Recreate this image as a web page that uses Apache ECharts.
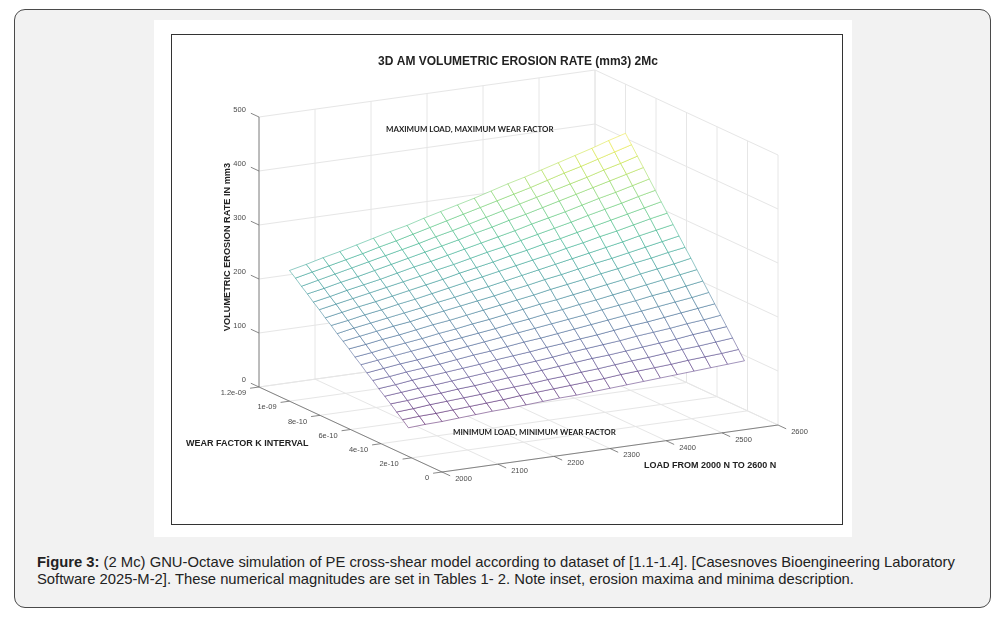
<!DOCTYPE html>
<html>
<head>
<meta charset="utf-8">
<script src="https://cdn.jsdelivr.net/npm/echarts@6/dist/echarts.min.js"></script>
<style>
  html, body { margin: 0; padding: 0; width: 1005px; height: 623px; overflow: hidden; background: #fff; font-family: "Liberation Sans", Arial, sans-serif; }
  #card { position: absolute; left: 14px; top: 9px; width: 977px; height: 599px; box-sizing: border-box; background: #f2f2f2; border: 1px solid #4a4a4a; border-radius: 11px; }
  #panel { position: absolute; left: 154px; top: 20px; width: 698px; height: 517px; background: #fff; }
  #frame { position: absolute; left: 171px; top: 34px; width: 672px; height: 491px; box-sizing: border-box; border: 1px solid #333; background: #fff; }
  #chart { width: 670px; height: 489px; }
  #caption { position: absolute; left: 37px; top: 554px; font-size: 14.8px; line-height: 17px; color: #222; white-space: nowrap; }
</style>
</head>
<body>
<div id="card"></div>
<div id="panel"></div>
<div id="frame"><div id="chart"></div></div>
<div id="caption"><b>Figure 3:</b> (2 Mc) GNU-Octave simulation of PE cross-shear model according to dataset of [1.1-1.4]. [Casesnoves Bioengineering Laboratory<br>Software 2025-M-2]. These numerical magnitudes are set in Tables 1- 2. Note inset, erosion maxima and minima description.</div>
<script>
// ---------- axes ----------
const loadTicks = [2000, 2100, 2200, 2300, 2400, 2500, 2600];
const wearTicks = [0, 2e-10, 4e-10, 6e-10, 8e-10, 1e-9, 1.2e-9];
const wearTickLabels = ["0", "2e-10", "4e-10", "6e-10", "8e-10", "1e-09", "1.2e-09"];
const erosionTicks = [0, 100, 200, 300, 400, 500];

// ---------- mesh nodes ----------
const loads = [2000, 2030, 2060, 2090, 2120, 2150, 2180, 2210, 2240, 2270, 2300,
               2330, 2360, 2390, 2420, 2450, 2480, 2510, 2540, 2570, 2600];
const wearK = [2.20e-10, 2.59e-10, 2.98e-10, 3.37e-10, 3.76e-10, 4.15e-10, 4.54e-10,
               4.93e-10, 5.32e-10, 5.71e-10, 6.10e-10, 6.49e-10, 6.88e-10, 7.27e-10,
               7.66e-10, 8.05e-10, 8.44e-10, 8.83e-10, 9.22e-10, 9.61e-10, 1.00e-9];
// volumetric erosion (mm3): one row per load, one column per wear factor
const erosion = [
  [53, 63, 72, 82, 91, 100, 110, 119, 129, 138, 148, 157, 166, 176, 185, 195, 204, 214, 223, 233, 242],
  [55, 65, 74, 84, 94, 103, 113, 123, 133, 142, 152, 162, 172, 181, 191, 201, 210, 220, 230, 240, 249],
  [56, 66, 77, 87, 97, 107, 117, 127, 137, 147, 157, 167, 177, 187, 197, 207, 217, 227, 237, 247, 257],
  [58, 68, 79, 89, 99, 110, 120, 130, 141, 151, 161, 172, 182, 192, 202, 213, 223, 233, 244, 254, 264],
  [60, 70, 81, 92, 102, 113, 123, 134, 145, 155, 166, 176, 187, 198, 208, 219, 229, 240, 251, 261, 272],
  [62, 72, 83, 94, 105, 116, 127, 138, 149, 160, 171, 182, 192, 203, 214, 225, 236, 247, 258, 269, 280],
  [63, 74, 86, 97, 108, 119, 131, 142, 153, 164, 175, 187, 198, 209, 220, 231, 243, 254, 265, 276, 288],
  [65, 77, 88, 100, 111, 123, 134, 146, 157, 169, 180, 192, 203, 215, 226, 238, 249, 261, 272, 284, 295],
  [67, 79, 90, 102, 114, 126, 138, 150, 161, 173, 185, 197, 209, 221, 233, 244, 256, 268, 280, 292, 304],
  [69, 81, 93, 105, 117, 129, 142, 154, 166, 178, 190, 202, 214, 227, 239, 251, 263, 275, 287, 300, 312],
  [70, 83, 95, 108, 120, 133, 145, 158, 170, 183, 195, 208, 220, 233, 245, 258, 270, 283, 295, 308, 320],
  [72, 85, 98, 111, 124, 136, 149, 162, 175, 188, 200, 213, 226, 239, 252, 264, 277, 290, 303, 316, 328],
  [74, 87, 100, 114, 127, 140, 153, 166, 179, 192, 206, 219, 232, 245, 258, 271, 284, 298, 311, 324, 337],
  [76, 90, 103, 116, 130, 143, 157, 170, 184, 197, 211, 224, 238, 251, 265, 278, 292, 305, 319, 332, 346],
  [78, 92, 106, 119, 133, 147, 161, 175, 188, 202, 216, 230, 244, 258, 271, 285, 299, 313, 327, 340, 354],
  [80, 94, 108, 122, 137, 151, 165, 179, 193, 207, 222, 236, 250, 264, 278, 292, 306, 321, 335, 349, 363],
  [82, 96, 111, 125, 140, 154, 169, 183, 198, 212, 227, 241, 256, 271, 285, 300, 314, 329, 343, 358, 372],
  [84, 99, 114, 128, 143, 158, 173, 188, 203, 218, 233, 247, 262, 277, 292, 307, 322, 337, 351, 366, 381],
  [86, 101, 116, 132, 147, 162, 177, 192, 208, 223, 238, 253, 269, 284, 299, 314, 329, 345, 360, 375, 390],
  [88, 103, 119, 135, 150, 166, 181, 197, 213, 228, 244, 259, 275, 291, 306, 322, 337, 353, 368, 384, 400],
  [90, 106, 122, 138, 154, 170, 186, 202, 218, 234, 249, 265, 281, 297, 313, 329, 345, 361, 377, 393, 409]
];

const viridis = ["#440154", "#482475", "#414487", "#355f8d", "#2a788e", "#21918c",
                 "#22a884", "#44bf70", "#7ad151", "#bddf26", "#fde725"];

// ---------- orthographic view (pixels inside the chart) ----------
const view = { x0: 270, y0: 437, load: [336, -47], wear: [-183, -85], up: [0, -270] };
const first = (a) => a[0], last = (a) => a[a.length - 1];
const frac = (ticks, v) => (v - first(ticks)) / (last(ticks) - first(ticks));
function project(l, k, z) {
  const u = frac(loadTicks, l), v = frac(wearTicks, k), w = frac(erosionTicks, z);
  return [view.x0 + u * view.load[0] + v * view.wear[0] + w * view.up[0],
          view.y0 + u * view.load[1] + v * view.wear[1] + w * view.up[1]];
}
function unit(vec, len) { const n = Math.hypot(vec[0], vec[1]); return [vec[0] / n * len, vec[1] / n * len]; }

// ---------- grid lines on floor and back walls ----------
const L0 = first(loadTicks), L1 = last(loadTicks);
const K0 = first(wearTicks), K1 = last(wearTicks);
const Z0 = first(erosionTicks), Z1 = last(erosionTicks);
const wallLines = [];
loadTicks.forEach(l => { wallLines.push([[l, K1, Z0], [l, K1, Z1]]); wallLines.push([[l, K0, Z0], [l, K1, Z0]]); });
wearTicks.forEach(k => { wallLines.push([[L1, k, Z0], [L1, k, Z1]]); wallLines.push([[L0, k, Z0], [L1, k, Z0]]); });
erosionTicks.forEach(z => { wallLines.push([[L0, K1, z], [L1, K1, z]]); wallLines.push([[L1, K0, z], [L1, K1, z]]); });

// ---------- mesh cells ----------
const cells = [];
for (let i = 0; i < loads.length - 1; i++) {
  for (let j = 0; j < wearK.length - 1; j++) {
    const avg = (erosion[i][j] + erosion[i + 1][j] + erosion[i + 1][j + 1] + erosion[i][j + 1]) / 4;
    cells.push([i, j, avg]);
  }
}
const flat = erosion.flat();

// ---------- axis ticks ----------
const tickFont = '7.5px "Liberation Sans", Arial, sans-serif';
const tickItems = [];
erosionTicks.forEach((z, n) => tickItems.push({ axis: "z", n }));
wearTicks.forEach((k, n) => tickItems.push({ axis: "k", n }));
loadTicks.forEach((l, n) => tickItems.push({ axis: "l", n }));

function tickGraphic(item) {
  let p, d, label, align, off;
  if (item.axis === "z") {
    p = project(L0, K1, erosionTicks[item.n]); d = unit(view.wear, 9);
    label = String(erosionTicks[item.n]); align = "right"; off = [-5, -3];
  } else if (item.axis === "k") {
    p = project(L0, wearTicks[item.n], Z0); d = unit([-view.load[0], -view.load[1]], 9);
    label = wearTickLabels[item.n]; align = "right"; off = [-4, 5];
  } else {
    p = project(loadTicks[item.n], K0, Z0); d = unit([-view.wear[0], -view.wear[1]], 9);
    label = String(loadTicks[item.n]); align = "left"; off = [5, 3];
  }
  const e = [p[0] + d[0], p[1] + d[1]];
  return {
    type: "group",
    children: [
      { type: "line", shape: { x1: p[0], y1: p[1], x2: e[0], y2: e[1] }, style: { stroke: "#6a6a6a", lineWidth: 0.8 } },
      { type: "text", x: e[0] + off[0], y: e[1] + off[1],
        style: { text: label, align, verticalAlign: "middle", font: tickFont, fill: "#4a4a4a" } }
    ]
  };
}

const axisLines = [
  [[L0, K1, Z0], [L0, K1, Z1]],
  [[L0, K0, Z0], [L0, K1, Z0]],
  [[L0, K0, Z0], [L1, K0, Z0]]
];

const chart = echarts.init(document.getElementById("chart"));
chart.setOption({
  animation: false,
  backgroundColor: "#fff",
  title: {
    text: "3D AM VOLUMETRIC EROSION RATE (mm3) 2Mc",
    left: 341, top: 16, textAlign: "center",
    textStyle: { fontFamily: "Liberation Sans", fontWeight: "bold", fontSize: 12, color: "#222" }
  },
  visualMap: {
    show: false, type: "continuous", seriesIndex: 2, dimension: 2,
    min: Math.min(...flat), max: Math.max(...flat),
    inRange: { color: viridis }
  },
  graphic: [
    { type: "text", x: 55, y: 212, rotation: Math.PI / 2,
      style: { text: "VOLUMETRIC EROSION RATE IN mm3", align: "center", verticalAlign: "middle",
               font: 'bold 9.2px "Liberation Sans", Arial, sans-serif', fill: "#222" } },
    { type: "text", x: 14, y: 409,
      style: { text: "WEAR FACTOR K INTERVAL", align: "left", verticalAlign: "middle",
               font: 'bold 9px "Liberation Sans", Arial, sans-serif', fill: "#222" } },
    { type: "text", x: 472, y: 431,
      style: { text: "LOAD FROM 2000 N TO 2600 N", align: "left", verticalAlign: "middle",
               font: 'bold 9px "Liberation Sans", Arial, sans-serif', fill: "#222" } },
    { type: "text", x: 214, y: 94, z: 10,
      style: { text: "MAXIMUM LOAD, MAXIMUM WEAR FACTOR", align: "left", verticalAlign: "middle",
               font: 'bold 7.9px Lato, "Liberation Sans", sans-serif', fill: "#1e1e1e" } },
    { type: "text", x: 281, y: 397, z: 10,
      style: { text: "MINIMUM LOAD, MINIMUM WEAR FACTOR", align: "left", verticalAlign: "middle",
               font: 'bold 7.9px Lato, "Liberation Sans", sans-serif', fill: "#1e1e1e" } }
  ],
  series: [
    {
      type: "custom", coordinateSystem: "none", z: 1, silent: true,
      data: wallLines.map((s, n) => [n]),
      renderItem: (params, api) => {
        const s = wallLines[api.value(0)];
        const a = project(...s[0]), b = project(...s[1]);
        return { type: "line", shape: { x1: a[0], y1: a[1], x2: b[0], y2: b[1] }, style: { stroke: "#e6e6e6", lineWidth: 1 } };
      }
    },
    {
      type: "custom", coordinateSystem: "none", z: 2, silent: true,
      data: tickItems.map((t, n) => [n]).concat(axisLines.map((s, n) => [100 + n])),
      renderItem: (params, api) => {
        const n = api.value(0);
        if (n >= 100) {
          const s = axisLines[n - 100];
          const a = project(...s[0]), b = project(...s[1]);
          return { type: "line", shape: { x1: a[0], y1: a[1], x2: b[0], y2: b[1] }, style: { stroke: "#6a6a6a", lineWidth: 0.8 } };
        }
        return tickGraphic(tickItems[n]);
      }
    },
    {
      type: "custom", coordinateSystem: "none", z: 3, silent: true,
      data: cells,
      renderItem: (params, api) => {
        const i = api.value(0), j = api.value(1);
        const pts = [[i, j], [i + 1, j], [i + 1, j + 1], [i, j + 1]]
          .map(([a, b]) => project(loads[a], wearK[b], erosion[a][b]));
        return { type: "polygon", shape: { points: pts },
                 style: { fill: "#fff", stroke: api.visual("color"), strokeOpacity: 0.5, lineWidth: 1 } };
      }
    }
  ]
});
</script>
</body>
</html>
